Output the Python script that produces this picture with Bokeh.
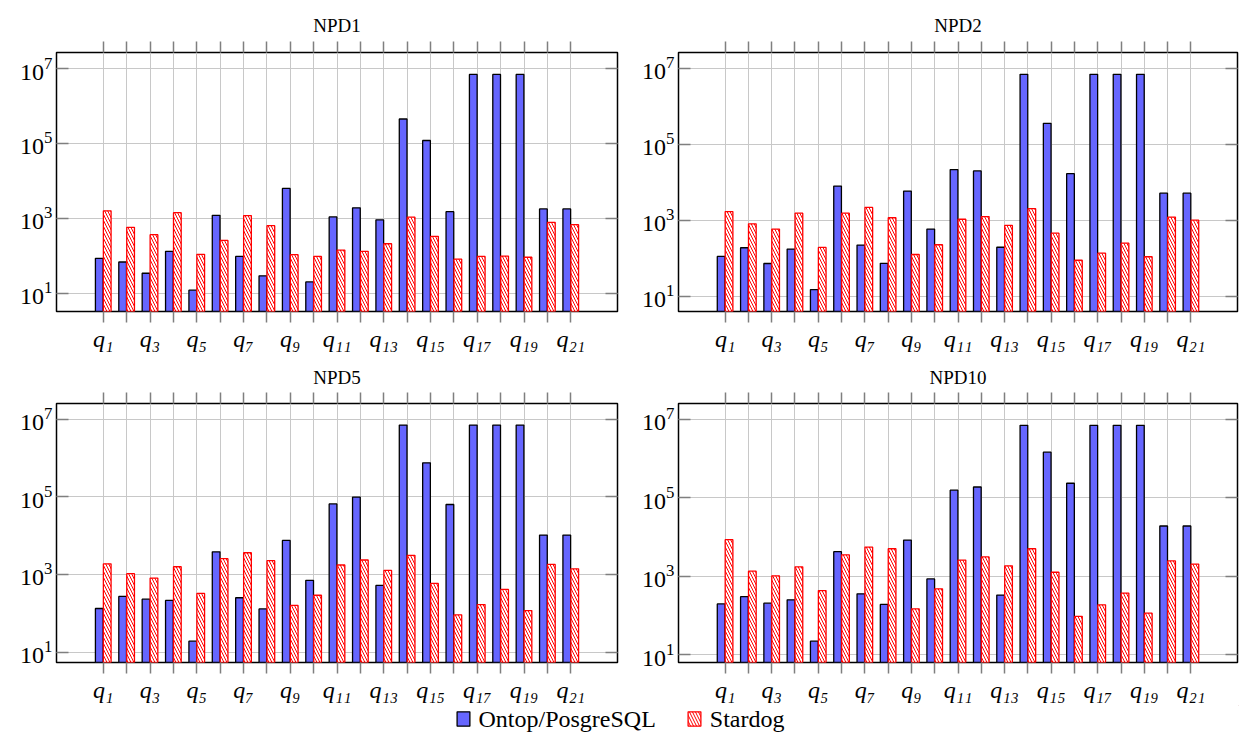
import numpy as np
from bokeh.plotting import figure
from bokeh.models import (FixedTicker, LinearAxis, Range1d, ColumnDataSource,
                          Legend, LegendItem)
from bokeh.layouts import column, row
from bokeh.transform import dodge
from bokeh.embed import file_html
from bokeh.resources import INLINE

# ---------------- data ----------------
queries = [f"q{i}" for i in range(1, 22)]
tick_labels = ["q₁", "", "q₃", "", "q₅", "", "q₇", "", "q₉", "", "q₁₁", "",
               "q₁₃", "", "q₁₅", "", "q₁₇", "", "q₁₉", "", "q₂₁"]
y_ticks = [1e1, 1e3, 1e5, 1e7]

npd1_ontop = [85, 68, 34, 131, 12, 1200, 96, 29, 6300, 20, 1090, 1900, 910,
              450000, 120000, 1500, 7.0e6, 7.0e6, 7.0e6, 1780, 1780]
npd1_stardog = [1580, 575, 365, 1410, 109, 257, 1180, 635, 107, 96, 142, 131, 209,
                1070, 330, 81, 96, 98, 91, 780, 675]

npd2_ontop = [112, 190, 73, 175, 15, 8000, 223, 74, 5900, 590, 21800, 20000, 196,
              7.0e6, 360000, 17000, 7.0e6, 7.0e6, 7.0e6, 5200, 5200]
npd2_stardog = [1700, 810, 590, 1550, 194, 1550, 2190, 1170, 126, 228, 1070, 1260, 735,
                2030, 460, 89, 137, 251, 110, 1220, 1010]

npd5_ontop = [132, 270, 230, 213, 19, 3800, 250, 129, 7500, 700, 65000, 98000, 520,
              7.0e6, 745000, 63000, 7.0e6, 7.0e6, 7.0e6, 10300, 10300]
npd5_stardog = [1870, 1040, 800, 1570, 322, 2530, 3600, 2250, 158, 290, 1740, 2340, 1260,
                3090, 585, 91, 167, 410, 117, 1800, 1390]

npd10_ontop = [196, 300, 205, 250, 22, 4200, 355, 190, 8300, 850, 155000, 187000, 330,
               7.0e6, 1440000, 233000, 7.0e6, 7.0e6, 7.0e6, 19000, 19000]
npd10_stardog = [8500, 1340, 1020, 1730, 430, 3500, 5500, 5000, 147, 475, 2570, 3100, 1830,
                 5000, 1260, 95, 186, 370, 114, 2450, 2030]

series_names = ["Ontop/PosgreSQL", "Stardog"]

# ---------------- style ----------------
FONT = "Liberation Serif"
BLUE = "#6666ff"
GRID = "#c8c8c8"
TICK = "#7f7f7f"

blue_style = dict(fill_color=BLUE, line_color="black", line_width=1.3)
red_style = dict(fill_color="white", line_color="red", line_width=1.3,
                 hatch_pattern="\\", hatch_color="red", hatch_scale=6, hatch_weight=1)


def tick_only_axis(ticker, ticks, tick_in, tick_out):
    return LinearAxis(ticker=ticker,
                      major_label_overrides={t: "" for t in ticks},
                      major_label_text_font_size="1px", major_label_standoff=0,
                      major_tick_in=tick_in, major_tick_out=tick_out,
                      major_tick_line_color=TICK, major_tick_line_width=1.5,
                      minor_tick_line_color=None, axis_line_color=None)


def make_panel(title, ontop, stardog, y_lo, y_hi, width, height, bl, br, bt, bb, tstand):
    p = figure(width=width, height=height, y_axis_type="log",
               x_range=Range1d(-1, 23), y_range=Range1d(y_lo, y_hi),
               output_backend="svg", toolbar_location=None, title=title,
               min_border_left=bl, min_border_right=br,
               min_border_top=bt, min_border_bottom=bb)
    xs = list(range(1, len(queries) + 1))
    src = ColumnDataSource(dict(x=xs, q=queries, ontop=ontop, stardog=stardog))
    p.vbar(x=dodge("x", -0.17, range=p.x_range), top="ontop", bottom=1e-3, width=0.33,
           source=src, **blue_style)
    p.vbar(x=dodge("x", 0.17, range=p.x_range), top="stardog", bottom=1e-3, width=0.33,
           source=src, **red_style)

    xt = FixedTicker(ticks=xs, minor_ticks=[])
    yt = FixedTicker(ticks=y_ticks, minor_ticks=[])

    xa = p.xaxis[0]
    xa.ticker = xt
    xa.major_label_overrides = {x: lab for x, lab in zip(xs, tick_labels)}
    xa.major_label_text_font = FONT
    xa.major_label_text_font_style = "italic"
    xa.major_label_text_font_size = "24px"
    xa.major_label_text_color = "black"
    xa.major_label_standoff = 3
    xa.major_tick_out = 11
    xa.major_tick_in = 0
    xa.major_tick_line_color = TICK
    xa.major_tick_line_width = 1.5
    xa.minor_tick_line_color = None
    xa.axis_line_color = None

    p.add_layout(tick_only_axis(xt, xs, 0, 11), "above")

    ya = p.yaxis[0]
    ya.ticker = yt
    ya.major_label_text_font = FONT
    ya.major_label_text_font_size = "24px"
    ya.major_label_text_color = "black"
    ya.major_label_standoff = 4
    ya.major_tick_in = 12
    ya.major_tick_out = 0
    ya.major_tick_line_color = TICK
    ya.major_tick_line_width = 1.5
    ya.minor_tick_line_color = None
    ya.axis_line_color = None

    p.add_layout(tick_only_axis(yt, y_ticks, 12, 0), "right")

    p.xgrid.ticker = xt
    p.ygrid.ticker = yt
    p.grid.grid_line_color = GRID
    p.grid.grid_line_width = 1

    p.outline_line_color = "black"
    p.outline_line_width = 1.5
    p.outline_line_alpha = 1

    p.title.text_font = FONT
    p.title.text_font_size = "19px"
    p.title.text_font_style = "normal"
    p.title.text_color = "black"
    p.title.align = "center"
    p.title.standoff = tstand
    p.background_fill_color = "white"
    p.border_fill_color = "white"
    return p


p1 = make_panel("NPD1", npd1_ontop, npd1_stardog, 10 ** 0.51, 10 ** 7.43,
                625, 357, 56, 8, 52, 46, 12)
p2 = make_panel("NPD2", npd2_ontop, npd2_stardog, 10 ** 0.60, 10 ** 7.42,
                614, 357, 53, 2, 52, 46, 12)
p3 = make_panel("NPD5", npd5_ontop, npd5_stardog, 10 ** 0.73, 10 ** 7.40,
                625, 348, 56, 8, 46, 43, 9)
p4 = make_panel("NPD10", npd10_ontop, npd10_stardog, 10 ** 0.80, 10 ** 7.40,
                614, 348, 53, 2, 46, 43, 9)

# ---------------- legend ----------------
pl = figure(width=1239, height=27, output_backend="svg", toolbar_location=None,
            x_axis_location=None, y_axis_location=None, min_border=0,
            x_range=Range1d(0, 1), y_range=Range1d(0, 1))
pl.grid.visible = False
pl.outline_line_color = None
pl.background_fill_color = "white"
pl.border_fill_color = "white"
# legend-only renderers: their single bar lies outside the visible range
r1 = pl.vbar(x=[5], top=[5], bottom=[4], width=0.1, **blue_style)
r2 = pl.vbar(x=[5], top=[5], bottom=[4], width=0.1, **red_style)
legend = Legend(items=[LegendItem(label=series_names[0], renderers=[r1]),
                       LegendItem(label=series_names[1], renderers=[r2])],
                orientation="horizontal", location="center",
                border_line_color=None, background_fill_alpha=0,
                label_text_font=FONT, label_text_font_size="24px",
                label_text_color="black",
                glyph_width=16, glyph_height=18, padding=0, margin=0,
                spacing=30, label_standoff=8)
pl.add_layout(legend, "center")

layout = column(row(p1, p2), row(p3, p4), pl)

with open("out.html", "w") as f:
    f.write(file_html(layout, INLINE))
